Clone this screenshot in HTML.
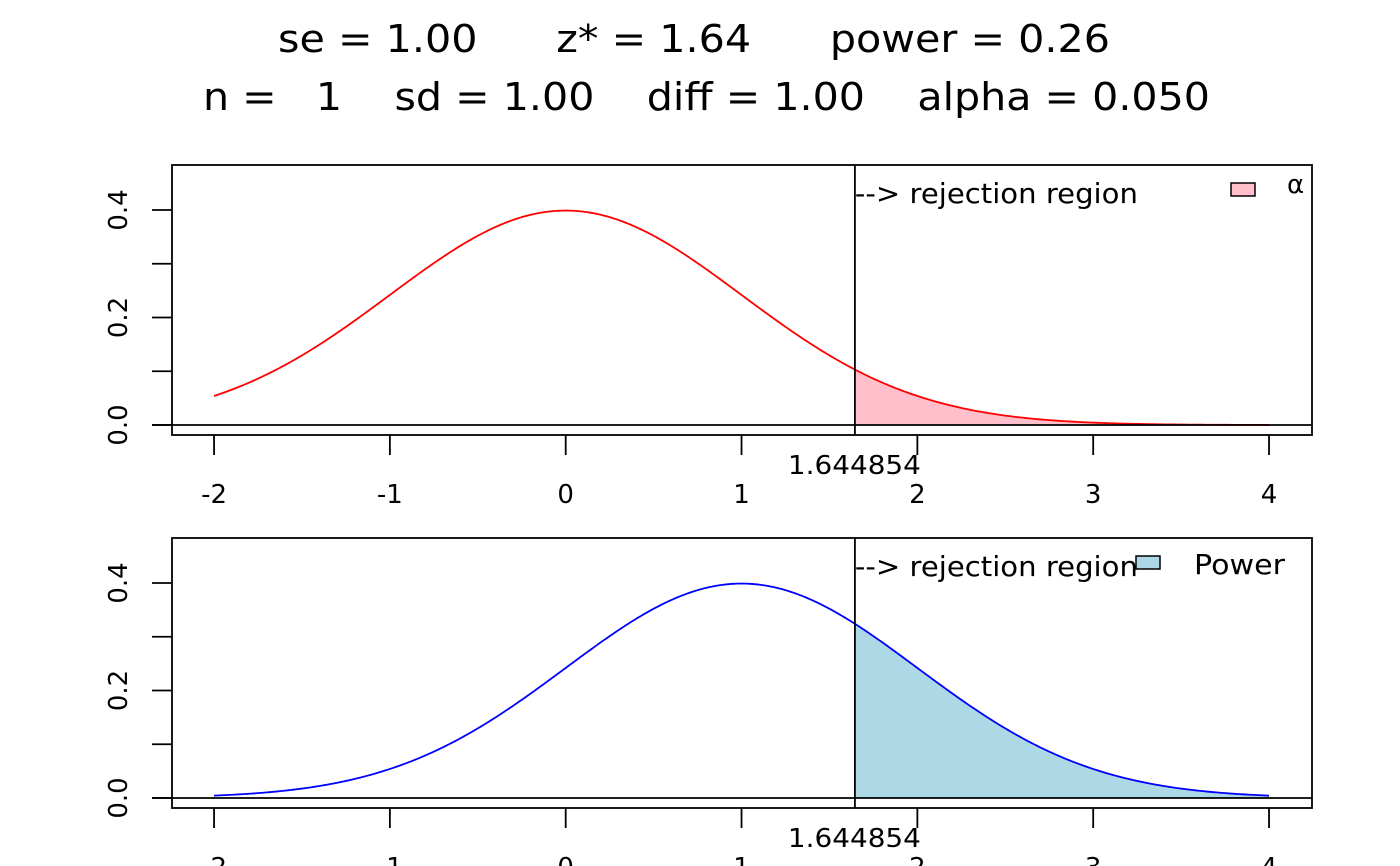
<!DOCTYPE html>
<html><head><meta charset="utf-8"><style>
body{margin:0;background:#fff}
svg{display:block;font-family:"DejaVu Sans","Liberation Sans",sans-serif}
</style></head><body>
<svg id="c" width="1400" height="866" viewBox="0 0 1400 866">
<text x="278" y="52" font-size="38" textLength="832" lengthAdjust="spacingAndGlyphs" xml:space="preserve">se = 1.00      z* = 1.64      power = 0.26</text>
<text x="203" y="110" font-size="38" textLength="1007" lengthAdjust="spacingAndGlyphs" xml:space="preserve">n =   1    sd = 1.00    diff = 1.00    alpha = 0.050</text>
</svg>
<script>
const xTicks=[-2,-1,0,1,2,3,4];
const yTicks=[0,0.1,0.2,0.3,0.4];
const yLabels=["0.0","","0.2","","0.4"];
const zCrit=1.644854;
const means=[0,1];
const sds=[1,1];
const lineColors=["red","blue"];
const fillColors=["pink","lightblue"];
const legendLabels=["α","Power"];
const NS="http://www.w3.org/2000/svg";
const svg=document.getElementById('c');
function X(v){return 565.7+v*175.83;}
function mk(t,a,p){const e=document.createElementNS(NS,t);for(const k in a)e.setAttribute(k,a[k]);(p||svg).appendChild(e);return e;}
function dens(x,m,s){return Math.exp(-0.5*((x-m)/s)**2)/(s*Math.sqrt(2*Math.PI));}
const panels=[{top:165,bot:435,zero:425},{top:538,bot:808,zero:798}];
panels.forEach((P,i)=>{
  const Y=v=>P.zero-v*537.5;
  const g=mk('g',{});
  
  
  let d='M'+X(zCrit)+','+Y(0);
  for(let k=0;k<=200;k++){const x=zCrit+(4-zCrit)*k/200;d+=' L'+X(x).toFixed(2)+','+Y(dens(x,means[i],sds[i])).toFixed(2);}
  d+=' L'+X(4)+','+Y(0)+' Z';
  const f=mk('path',{d:d,fill:fillColors[i],stroke:'none'},g);
  
  
  let c='';
  for(let k=0;k<=400;k++){const x=-2+6*k/400;c+=(k?' L':'M')+X(x).toFixed(2)+','+Y(dens(x,means[i],sds[i])).toFixed(2);}
  const cu=mk('path',{d:c,fill:'none',stroke:lineColors[i],'stroke-width':1.8},g);
  
  
  const b=mk('rect',{x:172,y:P.top,width:1140,height:P.bot-P.top,fill:'none',stroke:'#000','stroke-width':1.8},g);
  
  
  const zl=mk('line',{x1:152,x2:1312,y1:Y(0),y2:Y(0),stroke:'#000','stroke-width':1.8},g);
  
  
  const vl=mk('line',{x1:X(zCrit),x2:X(zCrit),y1:P.top,y2:P.bot,stroke:'#000','stroke-width':1.8},g);
  
  
  yTicks.forEach((t,j)=>{
    const tk=mk('line',{x1:152,x2:172,y1:Y(t),y2:Y(t),stroke:'#000','stroke-width':1.8},g);
    
    
    if(yLabels[j]){
      const tx=mk('text',{x:0,y:0,'font-size':26,'text-anchor':'middle',transform:'translate(127,'+Y(t)+') rotate(-90)'},g);
      tx.textContent=yLabels[j];
      
      
    }
  });
  xTicks.forEach(t=>{
    const tk=mk('line',{x1:X(t),x2:X(t),y1:P.bot,y2:P.bot+20,stroke:'#000','stroke-width':1.8},g);
    
    
    const tx=mk('text',{x:X(t),y:P.bot+68,'font-size':26,'text-anchor':'middle'},g);
    tx.textContent=String(t);
    
    
  });
  const zt=mk('text',{x:X(zCrit)-67,y:P.bot+39,'font-size':26,textLength:133,lengthAdjust:'spacingAndGlyphs'},g);
  zt.textContent=String(zCrit);
  
  
  const rr=mk('text',{x:X(zCrit),y:P.top+38,'font-size':28,textLength:283,lengthAdjust:'spacingAndGlyphs'},g);
  rr.textContent='--> rejection region';
  
  
  const lx=i===0?1231:1136, ly=P.top+18;
  const lr=mk('rect',{x:lx,y:ly,width:24,height:13,fill:fillColors[i],stroke:'#000','stroke-width':1.5},g);
  
  
  const lt=i===0?mk('text',{x:1287,y:P.top+28,'font-size':26},g):mk('text',{x:1194,y:P.top+36,'font-size':28,textLength:91,lengthAdjust:'spacingAndGlyphs'},g);
  lt.textContent=legendLabels[i];
  
  
});
</script>
</body></html>
